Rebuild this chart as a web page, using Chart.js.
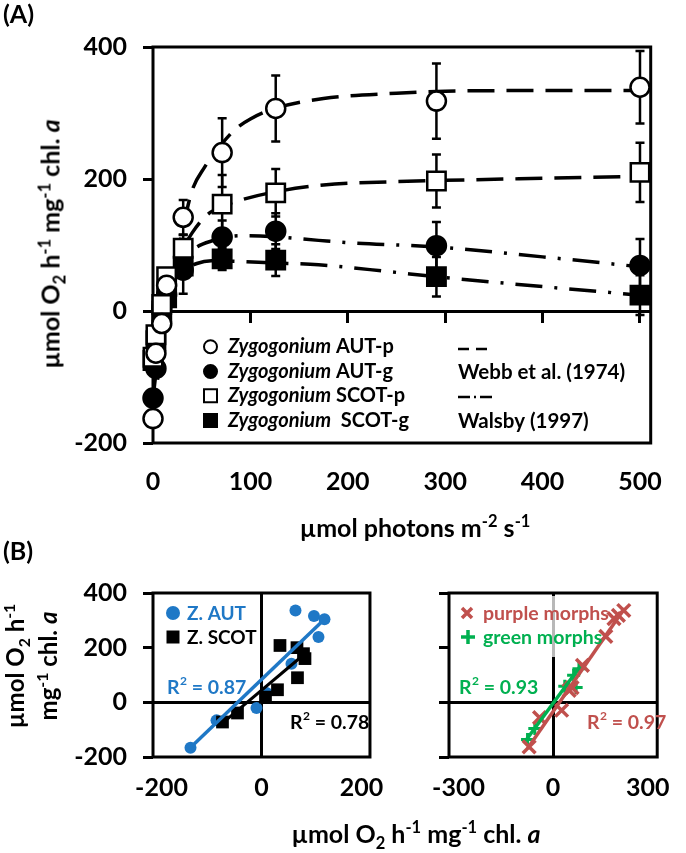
<!DOCTYPE html>
<html><head><meta charset="utf-8">
<script src="https://cdn.jsdelivr.net/npm/chart.js@4.4.1/dist/chart.umd.min.js"></script>
<style>
html,body{margin:0;padding:0;background:#fff;}
body{width:686px;height:853px;position:relative;overflow:hidden;font-family:Lato,sans-serif;font-weight:bold;color:#000;}
canvas{position:absolute;}
.t{position:absolute;white-space:nowrap;font-weight:bold;line-height:1;}
.t sup,.t sub{font-size:0.66em;line-height:0;}
.c{transform:translate(-50%,-50%);}
.r{transform:translate(-50%,-50%) rotate(-90deg);text-align:center;}
</style></head><body>
<canvas id="cA" width="686" height="560" style="left:0;top:0"></canvas>
<canvas id="cB1" width="400" height="293" style="left:0;top:560px"></canvas>
<canvas id="cB2" width="286" height="293" style="left:400px;top:560px"></canvas>

<div class="t" style="left:3px;top:1px;font-size:25px;">(A)</div>
<div class="t" style="left:3px;top:538px;font-size:25px;">(B)</div>
<div class="t r" style="left:50px;top:244px;font-size:25px;">µmol O<sub>2</sub> h<sup>-1</sup> mg<sup>-1</sup> chl. <i>a</i></div>
<div class="t c" style="left:415px;top:527px;font-size:25px;">µmol photons m<sup>-2</sup> s<sup>-1</sup></div>
<div class="t r" style="left:31px;top:666px;font-size:24px;line-height:33px;">µmol O<sub>2</sub> h<sup>-1</sup><br>mg<sup>-1</sup> chl. <i>a</i></div>
<div class="t c" style="left:416px;top:833px;font-size:25px;">µmol O<sub>2</sub> h<sup>-1</sup> mg<sup>-1</sup> chl. <i>a</i></div>

<script>
// ---------- Panel A data ----------
const lightLevels = [0, 3, 9, 14, 31, 71, 126, 291, 500];
const autP     = [-163, -64, -19, 39, 142, 240, 307, 318, 339];
const autPErr  = [5, 8, 10, 10, 26, 52, 50, 57, 55];
const autG     = [-132, -87, 5, 25, 62, 112, 121, 99, 69];
const autGErr  = [8, 10, 10, 10, 36, 25, 27, 36, 40];
const scotP    = [-70, -36, 10, 52, 95, 162, 179, 197, 210];
const scotPErr = [8, 8, 10, 10, 20, 44, 36, 40, 45];
const scotG    = [-75, -45, 0, 20, 68, 79, 77, 52, 24];
const scotGErr = [8, 8, 8, 10, 15, 17, 24, 30, 30];

const webbAutPX = [0, 5, 10, 15, 20, 30, 40, 53, 70, 85, 100, 125, 175, 250, 300, 400, 500];
const webbAutPY = [-163, -100, -45, 0, 45, 120, 182, 218, 252, 276, 291, 307, 322, 330, 333, 334, 334];
const webbScotPX = [0, 5, 10, 15, 20, 30, 40, 55, 70, 90, 120, 175, 250, 300, 400, 500];
const webbScotPY = [-70, -30, 5, 35, 58, 92, 118, 145, 158, 168, 179, 191, 196, 198, 201, 204];
const walsbyAutGX = [0, 5, 10, 15, 20, 30, 43, 60, 90, 120, 170, 206, 290, 400, 500];
const walsbyAutGY = [-132, -70, -20, 20, 45, 75, 95, 106, 114, 113, 107, 103, 97, 82, 67];
const walsbyScotGX = [0, 5, 10, 15, 20, 30, 45, 60, 90, 120, 170, 240, 290, 400, 500];
const walsbyScotGY = [-75, -35, 0, 25, 42, 60, 72, 76, 75, 73, 70, 60, 52, 37, 24];

const xTicksA = [0, 100, 200, 300, 400, 500];
const yTicksA = [-200, 0, 200, 400];
const genus = 'Zygogonium';
const seriesNamesA = ['AUT-p', 'AUT-g', 'SCOT-p', ' SCOT-g'];
const modelNamesA = ['Webb et al. (1974)', 'Walsby (1997)'];

// ---------- Panel B data ----------
const autObsX  = [-142, -90, -10, 10, 60, 68, 105, 126, 114];
const autObsY  = [-166, -66, -21, 34, 141, 336, 316, 304, 239];
const scotObsX = [-78, -48, 8, 32, 72, 37, 71, 84, 87];
const scotObsY = [-72, -39, 19, 46, 90, 208, 200, 178, 160];
const autFitX  = [-144, 127];
const autFitY  = [-169, 306];
const scotFitX = [-78, 85];
const scotFitY = [-76, 175];

const purpleX = [-76, -43, 27, 51, 60, 93, 167, 193, 207, 224];
const purpleY = [-163, -56, -29, 44, 54, 135, 241, 306, 318, 336];
const greenX  = [-81, -58, 37, 73, 65, 82];
const greenY  = [-136, -96, 59, 54, 99, 123];
const purpleFitX = [-81, 226];
const purpleFitY = [-169, 343];
const greenFitX  = [-86, 86];
const greenFitY  = [-139, 132];

const xTicksB1 = [-200, 0, 200];
const xTicksB2 = [-300, 0, 300];
const yTicksB  = [-200, 0, 200, 400];
const legendB1 = ['Z. AUT', 'Z. SCOT'];
const r2B1 = ['0.87', '0.78'];
const legendB2 = ['purple morphs', 'green morphs'];
const r2B2 = ['0.93', '0.97'];

const BLUE = '#1F78C6', RED = '#C0504D', GREEN = '#00B050';

// ---------- helpers ----------
const pts = (xs, ys) => xs.map((x, i) => ({x: x, y: ys[i]}));
const setTicks = arr => s => { s.ticks = arr.map(v => ({value: v})); };
const zeroOnly = c => (c.tick && c.tick.value === 0) ? '#000' : 'rgba(0,0,0,0)';

Chart.defaults.font.family = 'Lato, sans-serif';
Chart.defaults.font.weight = 'bold';
Chart.defaults.color = '#000';
Chart.defaults.animation = false;
Chart.defaults.plugins.legend.display = false;
Chart.defaults.plugins.tooltip.enabled = false;

const frame = {
  id: 'frame',
  beforeDatasetsDraw(chart, args, opts) {
    const a = chart.chartArea, c = chart.ctx;
    c.save();
    if (opts && opts.veil) {
      c.fillStyle = 'rgba(255,255,255,0.72)';
      c.fillRect(opts.veil[0], opts.veil[1], opts.veil[2], opts.veil[3]);
    }
    c.lineWidth = 3; c.strokeStyle = '#000';
    c.strokeRect(a.left, a.top, a.right - a.left, a.bottom - a.top);
    c.restore();
  }
};

const errorBars = {
  id: 'errorBars',
  beforeDatasetDraw(chart, args) {
    const ds = chart.data.datasets[args.index];
    if (!ds.errs) return;
    const xs = chart.scales.x, ys = chart.scales.y, c = chart.ctx;
    c.save(); c.strokeStyle = '#000'; c.lineWidth = 2.5; c.setLineDash([]);
    ds.data.forEach((p, i) => {
      const e = ds.errs[i];
      const px = xs.getPixelForValue(p.x);
      const t = ys.getPixelForValue(p.y + e), b = ys.getPixelForValue(p.y - e);
      c.beginPath();
      c.moveTo(px, t); c.lineTo(px, b);
      c.moveTo(px - 4.5, t); c.lineTo(px + 4.5, t);
      c.moveTo(px - 4.5, b); c.lineTo(px + 4.5, b);
      c.stroke();
    });
    c.restore();
  }
};

function drawR2(c, x, y, val, color) {
  c.fillStyle = color; c.textAlign = 'left'; c.textBaseline = 'middle';
  c.font = 'bold 19.5px Lato';
  c.fillText('R', x, y);
  let w = c.measureText('R').width;
  c.font = 'bold 12px Lato';
  c.fillText('2', x + w + 0.5, y - 6.5);
  w += c.measureText('2').width + 0.5;
  c.font = 'bold 19.5px Lato';
  c.fillText(' = ' + val, x + w, y);
}

const legendA = {
  id: 'legendA',
  afterDraw(chart) {
    const c = chart.ctx;
    c.save();
    const styles = [['circle', '#fff'], ['circle', '#000'], ['rect', '#fff'], ['rect', '#000']];
    const rowY = [346.7, 371.5, 395.8, 420.5];
    styles.forEach((s, i) => {
      const y = rowY[i], x = 210.5;
      c.lineWidth = 2; c.strokeStyle = '#000'; c.fillStyle = s[1];
      c.beginPath();
      if (s[0] === 'circle') c.arc(x, y, 6.5, 0, Math.PI * 2);
      else c.rect(x - 6.5, y - 6.5, 13, 13);
      c.fill(); c.stroke();
      c.fillStyle = '#000'; c.textBaseline = 'middle'; c.textAlign = 'left';
      c.font = 'italic bold 20px Lato';
      c.fillText(genus, 228, y);
      const w = c.measureText(genus).width;
      c.font = 'bold 20px Lato';
      c.fillText(' ' + seriesNamesA[i], 228 + w, y);
    });
    c.strokeStyle = '#000'; c.lineWidth = 2.5;
    c.setLineDash([11, 7]);
    c.beginPath(); c.moveTo(458, 349); c.lineTo(487, 349); c.stroke();
    c.setLineDash([12, 4, 2, 4]);
    c.beginPath(); c.moveTo(458, 397); c.lineTo(492, 397); c.stroke();
    c.setLineDash([]);
    c.font = 'bold 20.5px Lato'; c.fillStyle = '#000';
    c.fillText(modelNamesA[0], 458, 372);
    c.fillText(modelNamesA[1], 458, 421);
    c.restore();
  }
};

const legendB1Plugin = {
  id: 'legendB1',
  afterDraw(chart) {
    const c = chart.ctx; c.save();
    c.fillStyle = BLUE; c.beginPath(); c.arc(173, 53, 7, 0, Math.PI * 2); c.fill();
    c.fillStyle = '#000'; c.fillRect(166.5, 70.5, 13, 13);
    c.font = 'bold 19px Lato'; c.textBaseline = 'middle'; c.textAlign = 'left';
    c.fillStyle = BLUE; c.fillText(legendB1[0], 187, 54);
    c.fillStyle = '#000'; c.fillText(legendB1[1], 187, 78);
    drawR2(c, 167, 128, r2B1[0], BLUE);
    drawR2(c, 290, 163, r2B1[1], '#000');
    c.restore();
  }
};

const legendB2Plugin = {
  id: 'legendB2',
  afterDraw(chart) {
    const c = chart.ctx; c.save();
    c.lineWidth = 3.5; c.strokeStyle = RED;
    c.beginPath(); c.moveTo(62, 48); c.lineTo(72, 58); c.moveTo(72, 48); c.lineTo(62, 58); c.stroke();
    c.strokeStyle = GREEN;
    c.beginPath(); c.moveTo(61, 77); c.lineTo(75, 77); c.moveTo(68, 70); c.lineTo(68, 84); c.stroke();
    c.font = 'bold 19.5px Lato'; c.textBaseline = 'middle'; c.textAlign = 'left';
    c.fillStyle = RED; c.fillText(legendB2[0], 83, 54);
    c.fillStyle = GREEN; c.fillText(legendB2[1], 83, 78);
    drawR2(c, 59, 128, r2B2[0], GREEN);
    drawR2(c, 187, 163, r2B2[1], RED);
    c.restore();
  }
};

// ---------- Chart A ----------
const markerDs = (ys, errs, style, fill, order) => ({
  data: pts(lightLevels, ys), errs: errs, xAxisID: 'x', yAxisID: 'y',
  pointStyle: style, pointRadius: style === 'rect' ? 13 : 9.5,
  pointBackgroundColor: fill, pointBorderColor: '#000', pointBorderWidth: 2.5,
  showLine: false, clip: false, order: order
});
const curveDs = (xs, ys, dash) => ({
  data: pts(xs, ys), xAxisID: 'x', yAxisID: 'y', showLine: true, pointRadius: 0,
  borderColor: '#000', borderWidth: 3.5, borderDash: dash, cubicInterpolationMode: 'monotone',
  fill: false, clip: false, order: 10
});

new Chart(document.getElementById('cA'), {
  type: 'scatter',
  data: { datasets: [
    curveDs(webbAutPX, webbAutPY, [27, 12]),
    curveDs(webbScotPX, webbScotPY, [27, 12]),
    curveDs(walsbyAutGX, walsbyAutGY, [27, 12, 3, 12]),
    curveDs(walsbyScotGX, walsbyScotGY, [27, 12, 3, 12]),
    markerDs(scotG, scotGErr, 'rect', '#000', 5),
    markerDs(autG, autGErr, 'circle', '#000', 4),
    markerDs(scotP, scotPErr, 'rect', '#fff', 3),
    markerDs(autP, autPErr, 'circle', '#fff', 2)
  ]},
  options: {
    responsive: false, animation: false,
    layout: { padding: { left: 0, top: 47, right: 12, bottom: 0 }, autoPadding: false },
    scales: {
      x: { type: 'linear', position: 'bottom', min: 0, max: 511,
        afterBuildTicks: setTicks(xTicksA), afterFit: s => { s.height = 117; },
        grid: { display: false, drawTicks: false }, border: { display: false },
        ticks: { padding: 24, font: { size: 25 }, maxRotation: 0, callback: v => String(v) } },
      x0: { type: 'linear', axis: 'x', position: { y: 0 }, min: 0, max: 511,
        afterBuildTicks: setTicks(xTicksA), ticks: { display: false },
        grid: { drawOnChartArea: false, drawTicks: true, tickLength: 10, lineWidth: 3, tickWidth: 3, color: '#000', tickColor: '#000' },
        border: { display: true, color: '#000', width: 3 } },
      y: { type: 'linear', position: 'left', min: -200, max: 400,
        afterBuildTicks: setTicks(yTicksA), afterFit: s => { s.width = 153; },
        grid: { drawOnChartArea: false, drawTicks: true, tickLength: 10, lineWidth: 3, tickWidth: 3, color: '#000', tickColor: '#000' },
        border: { display: false },
        ticks: { padding: 16, font: { size: 25 }, callback: v => String(v) } }
    }
  },
  plugins: [frame, errorBars, legendA]
});

// ---------- Chart B ----------
const bScales = (xmin, xmax, xt, yWidth, showY) => ({
  x: { type: 'linear', position: 'bottom', min: xmin, max: xmax,
    afterBuildTicks: setTicks(xt), afterFit: s => { s.height = 96; },
    grid: { color: zeroOnly, lineWidth: 3, drawTicks: false }, border: { display: false },
    ticks: { padding: 16, font: { size: 25 }, maxRotation: 0, callback: v => String(v) } },
  y: { type: 'linear', position: 'left', min: -200, max: 400,
    afterBuildTicks: setTicks(yTicksB), afterFit: s => { s.width = yWidth; },
    grid: { color: zeroOnly, lineWidth: 3, drawTicks: true, tickLength: 10, tickWidth: 3, tickColor: '#000' },
    border: { display: false },
    ticks: { display: showY, padding: 16, font: { size: 25 }, callback: v => String(v) } }
});

new Chart(document.getElementById('cB1'), {
  type: 'scatter',
  data: { datasets: [
    { data: pts(autObsX, autObsY), pointStyle: 'circle', pointRadius: 6, pointBackgroundColor: BLUE, pointBorderColor: BLUE, pointBorderWidth: 0, clip: false, order: 4 },
    { data: pts(scotObsX, scotObsY), pointStyle: 'rect', pointRadius: 9, pointBackgroundColor: '#000', pointBorderColor: '#000', pointBorderWidth: 0, clip: false, order: 3 },
    { data: pts(scotFitX, scotFitY), showLine: true, borderColor: '#000', borderWidth: 3, pointRadius: 0, clip: false, order: 2 },
    { data: pts(autFitX, autFitY), showLine: true, borderColor: BLUE, borderWidth: 3.5, pointRadius: 0, clip: false, order: 1 }
  ]},
  options: {
    responsive: false, animation: false,
    layout: { padding: { left: 0, top: 33, right: 20, bottom: 0 }, autoPadding: false },
    scales: bScales(-217, 217, xTicksB1, 153, true)
  },
  plugins: [frame, legendB1Plugin]
});

new Chart(document.getElementById('cB2'), {
  type: 'scatter',
  data: { datasets: [
    { data: pts(greenX, greenY), pointStyle: 'cross', pointRadius: 6.5, pointBorderColor: GREEN, pointBackgroundColor: GREEN, pointBorderWidth: 3, clip: false, order: 4 },
    { data: pts(purpleX, purpleY), pointStyle: 'crossRot', pointRadius: 9, pointBorderColor: RED, pointBackgroundColor: RED, pointBorderWidth: 3.5, clip: false, order: 3 },
    { data: pts(greenFitX, greenFitY), showLine: true, borderColor: GREEN, borderWidth: 3.5, pointRadius: 0, clip: false, order: 2 },
    { data: pts(purpleFitX, purpleFitY), showLine: true, borderColor: RED, borderWidth: 3.5, pointRadius: 0, clip: false, order: 1 }
  ]},
  options: {
    responsive: false, animation: false,
    layout: { padding: { left: 0, top: 33, right: 11, bottom: 0 }, autoPadding: false },
    scales: bScales(-330, 330, xTicksB2, 49, false),
    plugins: { frame: { veil: [55, 36, 195, 61] } }
  },
  plugins: [frame, legendB2Plugin]
});
</script>
</body></html>
